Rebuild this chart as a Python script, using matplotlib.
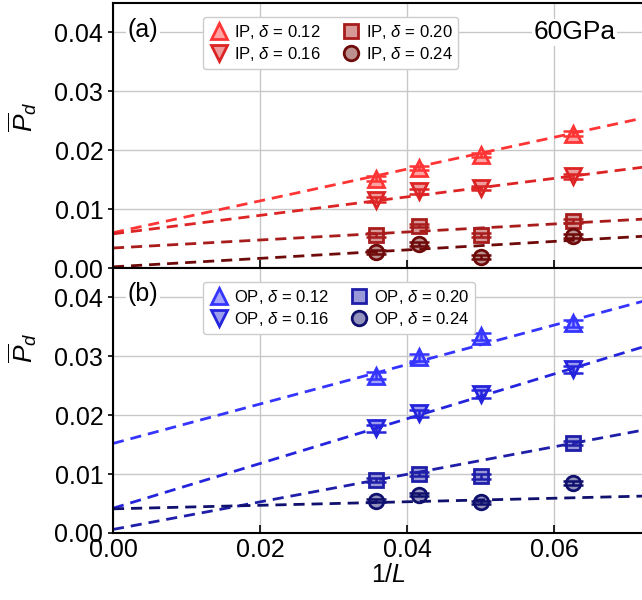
import numpy as np
import matplotlib
matplotlib.use("Agg")
import matplotlib.pyplot as plt

plt.rcParams["font.family"] = ["Liberation Sans", "DejaVu Sans"]
plt.rcParams["mathtext.fontset"] = "custom"
plt.rcParams["mathtext.it"] = "Liberation Sans:italic"
plt.rcParams["mathtext.rm"] = "Liberation Sans"

# 1/L for L = 28, 24, 20, 16
inv_L = [1 / 28, 1 / 24, 1 / 20, 1 / 16]
deltas = ["0.12", "0.16", "0.20", "0.24"]
markers = ["^", "v", "s", "o"]
msizes = [12, 12, 10.5, 10.5]

# panel (a): in-plane
ip_vals = [
    [0.0152, 0.0170, 0.0192, 0.0228],
    [0.0116, 0.0130, 0.0136, 0.0156],
    [0.0056, 0.0072, 0.0056, 0.0080],
    [0.0027, 0.0041, 0.0019, 0.0054],
]
ip_err = [0.0004, 0.0004, 0.0003, 0.0003]
ip_intercept = [0.0060, 0.0058, 0.0034, 0.0002]
ip_slope = [0.270, 0.157, 0.068, 0.072]
ip_colors = ["#ff3535", "#dd2424", "#a81c1c", "#6e0a0a"]

# panel (b): out-of-plane
op_vals = [
    [0.0267, 0.0298, 0.0334, 0.0356],
    [0.0178, 0.0203, 0.0236, 0.0278],
    [0.0090, 0.0100, 0.0096, 0.0153],
    [0.0055, 0.0065, 0.0052, 0.0085],
]
op_err = [0.0006, 0.0006, 0.0004, 0.0003]
op_intercept = [0.0152, 0.0042, 0.0006, 0.0041]
op_slope = [0.335, 0.380, 0.234, 0.030]
op_colors = ["#3535ff", "#2424dd", "#1e1ea8", "#10106e"]

fig = plt.figure(figsize=(6.42, 6.0), dpi=100)
ax_a = fig.add_axes([0.176, 0.5533, 0.859, 0.4417])
ax_b = fig.add_axes([0.176, 0.1117, 0.859, 0.4417], sharex=ax_a)

xfit = np.linspace(0, 0.08, 50)


def draw_panel(ax, vals, err, icpt, slope, colors, tag, ylab_y):
    for i in range(4):
        c = colors[i]
        ax.plot(xfit, icpt[i] + slope[i] * xfit, ls=(0, (4, 2.5)), lw=2, color=c, zorder=2)
        ax.errorbar(inv_L, vals[i], yerr=err[i], fmt="none", ecolor=c,
                    elinewidth=1.8, capsize=7, capthick=1.8, zorder=3)
        ax.plot(inv_L, vals[i], ls="none", marker=markers[i], ms=msizes[i], mew=2,
                mec=c, mfc=matplotlib.colors.to_rgba(c, 0.45), zorder=4,
                label=tag + r", $\delta$ = " + deltas[i])
    ax.set_xlim(0, 0.075)
    ax.set_ylim(0, 0.045)
    ax.set_yticks([0, 0.01, 0.02, 0.03, 0.04])
    ax.set_xticks([0, 0.02, 0.04, 0.06])
    ax.grid(True, color="#c8c8c8", lw=1)
    ax.set_axisbelow(True)
    ax.tick_params(labelsize=18, width=1.2)
    ax.tick_params(axis="x", direction="in", length=6)
    for s in ax.spines.values():
        s.set_linewidth(1.5)
    ax.set_ylabel(r"$\overline{P}_d$", fontsize=19)
    ax.yaxis.set_label_coords(-0.135, ylab_y)
    ax.legend(loc="upper left", bbox_to_anchor=(0.148, 0.978), ncol=2,
              fontsize=12, handletextpad=0.3, columnspacing=1.2,
              labelspacing=0.25, borderpad=0.35, handlelength=1.2,
              framealpha=1, edgecolor="#cccccc", fancybox=True)


draw_panel(ax_a, ip_vals, ip_err, ip_intercept, ip_slope, ip_colors, "IP", 0.57)
draw_panel(ax_b, op_vals, op_err, op_intercept, op_slope, op_colors, "OP", 0.70)

ax_a.tick_params(labelbottom=False)
box = dict(facecolor="white", edgecolor="none", pad=1)
ax_a.text(0.027, 0.9, "(a)", transform=ax_a.transAxes, fontsize=18,
          va="center", ha="left", bbox=box)
ax_b.text(0.027, 0.9, "(b)", transform=ax_b.transAxes, fontsize=18,
          va="center", ha="left", bbox=box)
ax_a.text(0.762, 0.889, "60GPa", transform=ax_a.transAxes, fontsize=19,
          va="center", ha="left", bbox=box)
ax_b.set_xlabel(r"1/$L$", fontsize=18, labelpad=1)

fig.savefig("out.png", dpi=100)
